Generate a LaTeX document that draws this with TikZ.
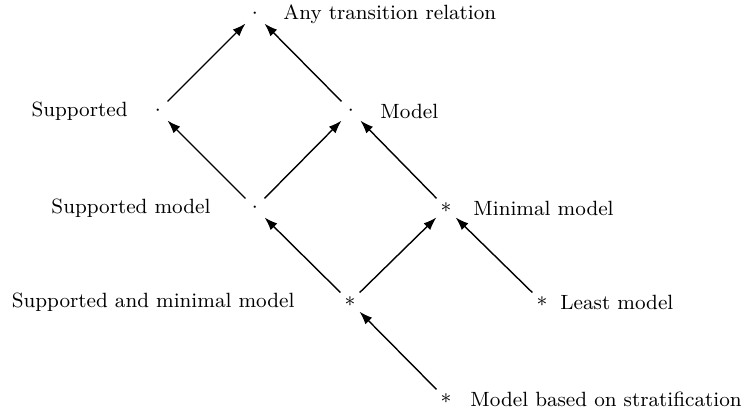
\documentclass[tikz,border=0pt]{standalone}
\usetikzlibrary{arrows.meta,positioning}
\begin{document}
\begin{tikzpicture}[x=0.015cm,y=-0.015cm,font=\fontsize{8.8}{11}\selectfont,
	pt/.style={circle,inner sep=0pt,minimum size=0.39cm},
	lbl/.style={inner sep=0pt},
	up/.style={-{Latex[length=5.6pt,width=4pt]},semithick}]
	\useasboundingbox (0,0) rectangle (745,415);
	
	% Points of the lattice
	\node[pt] (any) at (255,14) {$\cdot$};
	\node[pt] (sup) at (158,111) {$\cdot$};
	\node[pt] (mod) at (351,111) {$\cdot$};
	\node[pt] (supmod) at (255,208) {$\cdot$};
	\node[pt] (minmod) at (446,208) {$*$};
	\node[pt] (supmin) at (350,302) {$*$};
	\node[pt] (least) at (542,302) {$*$};
	\node[pt] (strat) at (446,399) {$*$};
	
	% Labels
	\node[lbl,anchor=west] (lany) at (283,14) {Any transition relation};
	\node[lbl,anchor=east] (lsup) at (128,111) {Supported};
	\node[lbl,anchor=west] (lmod) at (380,111) {Model};
	\node[lbl,anchor=east] (lsupmod) at (211,208) {Supported model};
	\node[lbl,anchor=west] (lminmod) at (473,208) {Minimal model};
	\node[lbl,anchor=east] (lsupmin) at (295,302) {Supported and minimal model};
	\node[lbl,anchor=west] (lleast) at (560,302) {Least model};
	\node[lbl,anchor=west] (lstrat) at (470,399) {Model based on stratification};
	
	% Arrows upwards
	\draw[up] (sup) -- (any);
	\draw[up] (mod) -- (any);
	\draw[up] (supmod) -- (sup);
	\draw[up] (supmod) -- (mod);
	\draw[up] (minmod) -- (mod);
	\draw[up] (supmin) -- (supmod);
	\draw[up] (supmin) -- (minmod);
	\draw[up] (least) -- (minmod);
	\draw[up] (strat) -- (supmin);
\end{tikzpicture}
\end{document}
